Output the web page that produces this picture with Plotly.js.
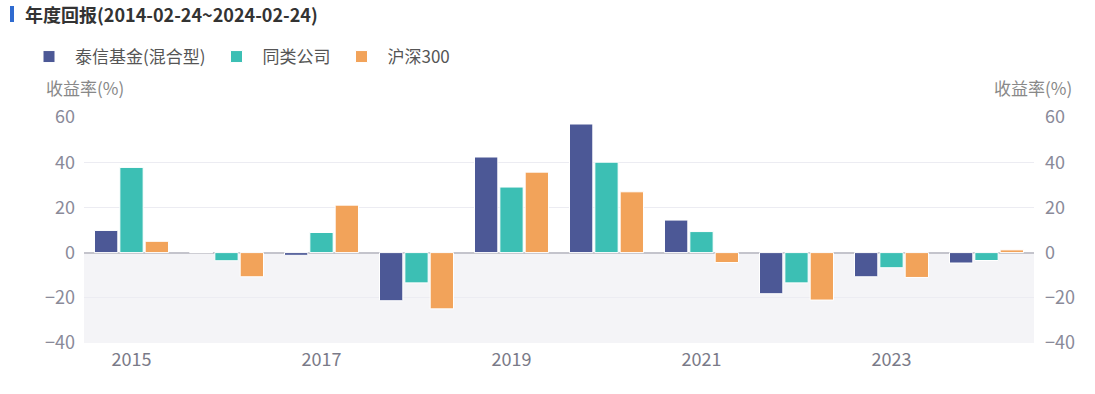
<!DOCTYPE html>
<html><head><meta charset="utf-8">
<script src="https://cdn.plot.ly/plotly-3.0.1.min.js"></script>
<style>html,body{margin:0;padding:0;background:#fff;}#chart{width:1095px;height:394px;}</style>
</head><body><div id="chart"></div>
<script>
const years = ['2015','2016','2017','2018','2019','2020','2021','2022','2023','2024'];
const fund = [9.8, 0, -1.2, -21.3, 42.3, 56.9, 14.4, -18.2, -10.7, -4.6];
const peers = [37.7, -3.6, 8.9, -13.4, 29.0, 40.0, 9.3, -13.4, -6.7, -3.5];
const csi300 = [5.0, -10.7, 21.0, -24.9, 35.6, 26.9, -4.4, -21.0, -11.0, 1.2];
const seriesNames = ['泰信基金(混合型)', '同类公司', '沪深300'];
const tickYears = ['2015','2017','2019','2021','2023'];
const yTicks = [-40, -20, 0, 20, 40, 60];
const colors = ['#4c5896', '#3cbfb4', '#f2a35a'];
const font = '"Noto Sans CJK SC", "Noto Sans", sans-serif';

const traces = [fund, peers, csi300].map((vals, i) => ({
  type: 'bar', x: years, y: vals, name: seriesNames[i],
  marker: {color: colors[i], line: {color: '#ffffff', width: 1}},
  hoverinfo: 'x+y'
}));
// invisible trace to activate the right-hand axis
traces.push({type: 'scatter', x: [years[0]], y: [0], yaxis: 'y2', mode: 'markers',
  marker: {opacity: 0}, showlegend: false, hoverinfo: 'skip'});

const tickFont = {size: 18, color: '#8a8a99', family: font};
const layout = {
  width: 1095, height: 394,
  margin: {l: 84, r: 61, t: 117, b: 51},
  paper_bgcolor: '#fff', plot_bgcolor: '#fff',
  barmode: 'group', bargap: 0.2, bargroupgap: 0.08,
  font: {family: font, color: '#888', size: 17},
  showlegend: true,
  legend: {orientation: 'h', x: 23/1095, xref: 'container', xanchor: 'left',
    y: (394-57)/394, yref: 'container', yanchor: 'middle', itemwidth: 42,
    font: {size: 17, color: '#555', family: font}, traceorder: 'normal'},
  xaxis: {type: 'category', range: [-0.5, 9.5], tickmode: 'array', tickvals: tickYears, ticktext: tickYears,
    showgrid: false, zeroline: false, showline: false, ticks: '',
    tickfont: {size: 18, color: '#7a7a88', family: font}, ticklabelstandoff: 4},
  yaxis: {range: [-40, 60], tickvals: yTicks, showgrid: true, gridcolor: '#ececf2', gridwidth: 1,
    zeroline: true, zerolinecolor: '#c4c4cc', zerolinewidth: 2, showline: false, ticks: '',
    tickfont: tickFont, ticklabelstandoff: 8},
  yaxis2: {range: [-40, 60], tickvals: yTicks, overlaying: 'y', side: 'right', matches: 'y',
    showgrid: false, zeroline: false, showline: false, ticks: '',
    tickfont: tickFont, ticklabelstandoff: 10},
  shapes: [
    {type: 'rect', xref: 'paper', yref: 'y', x0: 0, x1: 1, y0: -40, y1: 0, fillcolor: '#f4f4f7', line: {width: 0}, layer: 'below'},
    {type: 'rect', xref: 'paper', yref: 'paper', x0: (10-84)/950, x1: (14-84)/950, y0: (343-22)/226, y1: (343-6)/226,
      fillcolor: '#2f6bd0', line: {width: 0}}
  ],
  annotations: [
    {text: '<b>年度回报(2014-02-24~2024-02-24)</b>', xref: 'paper', yref: 'paper', x: (23-84)/950, xanchor: 'left',
      y: (343-14)/226, yanchor: 'middle', showarrow: false, font: {size: 18, color: '#333', family: font}},
    {text: '收益率(%)', xref: 'paper', yref: 'paper', x: (44-84)/950, xanchor: 'left', y: (343-88)/226, yanchor: 'middle',
      showarrow: false, font: {size: 17, color: '#888', family: font}},
    {text: '收益率(%)', xref: 'paper', yref: 'paper', x: (1074-84)/950, xanchor: 'right', y: (343-88)/226, yanchor: 'middle',
      showarrow: false, font: {size: 17, color: '#888', family: font}}
  ]
};
Plotly.newPlot('chart', traces, layout, {displayModeBar: false, staticPlot: true});
</script></body></html>
